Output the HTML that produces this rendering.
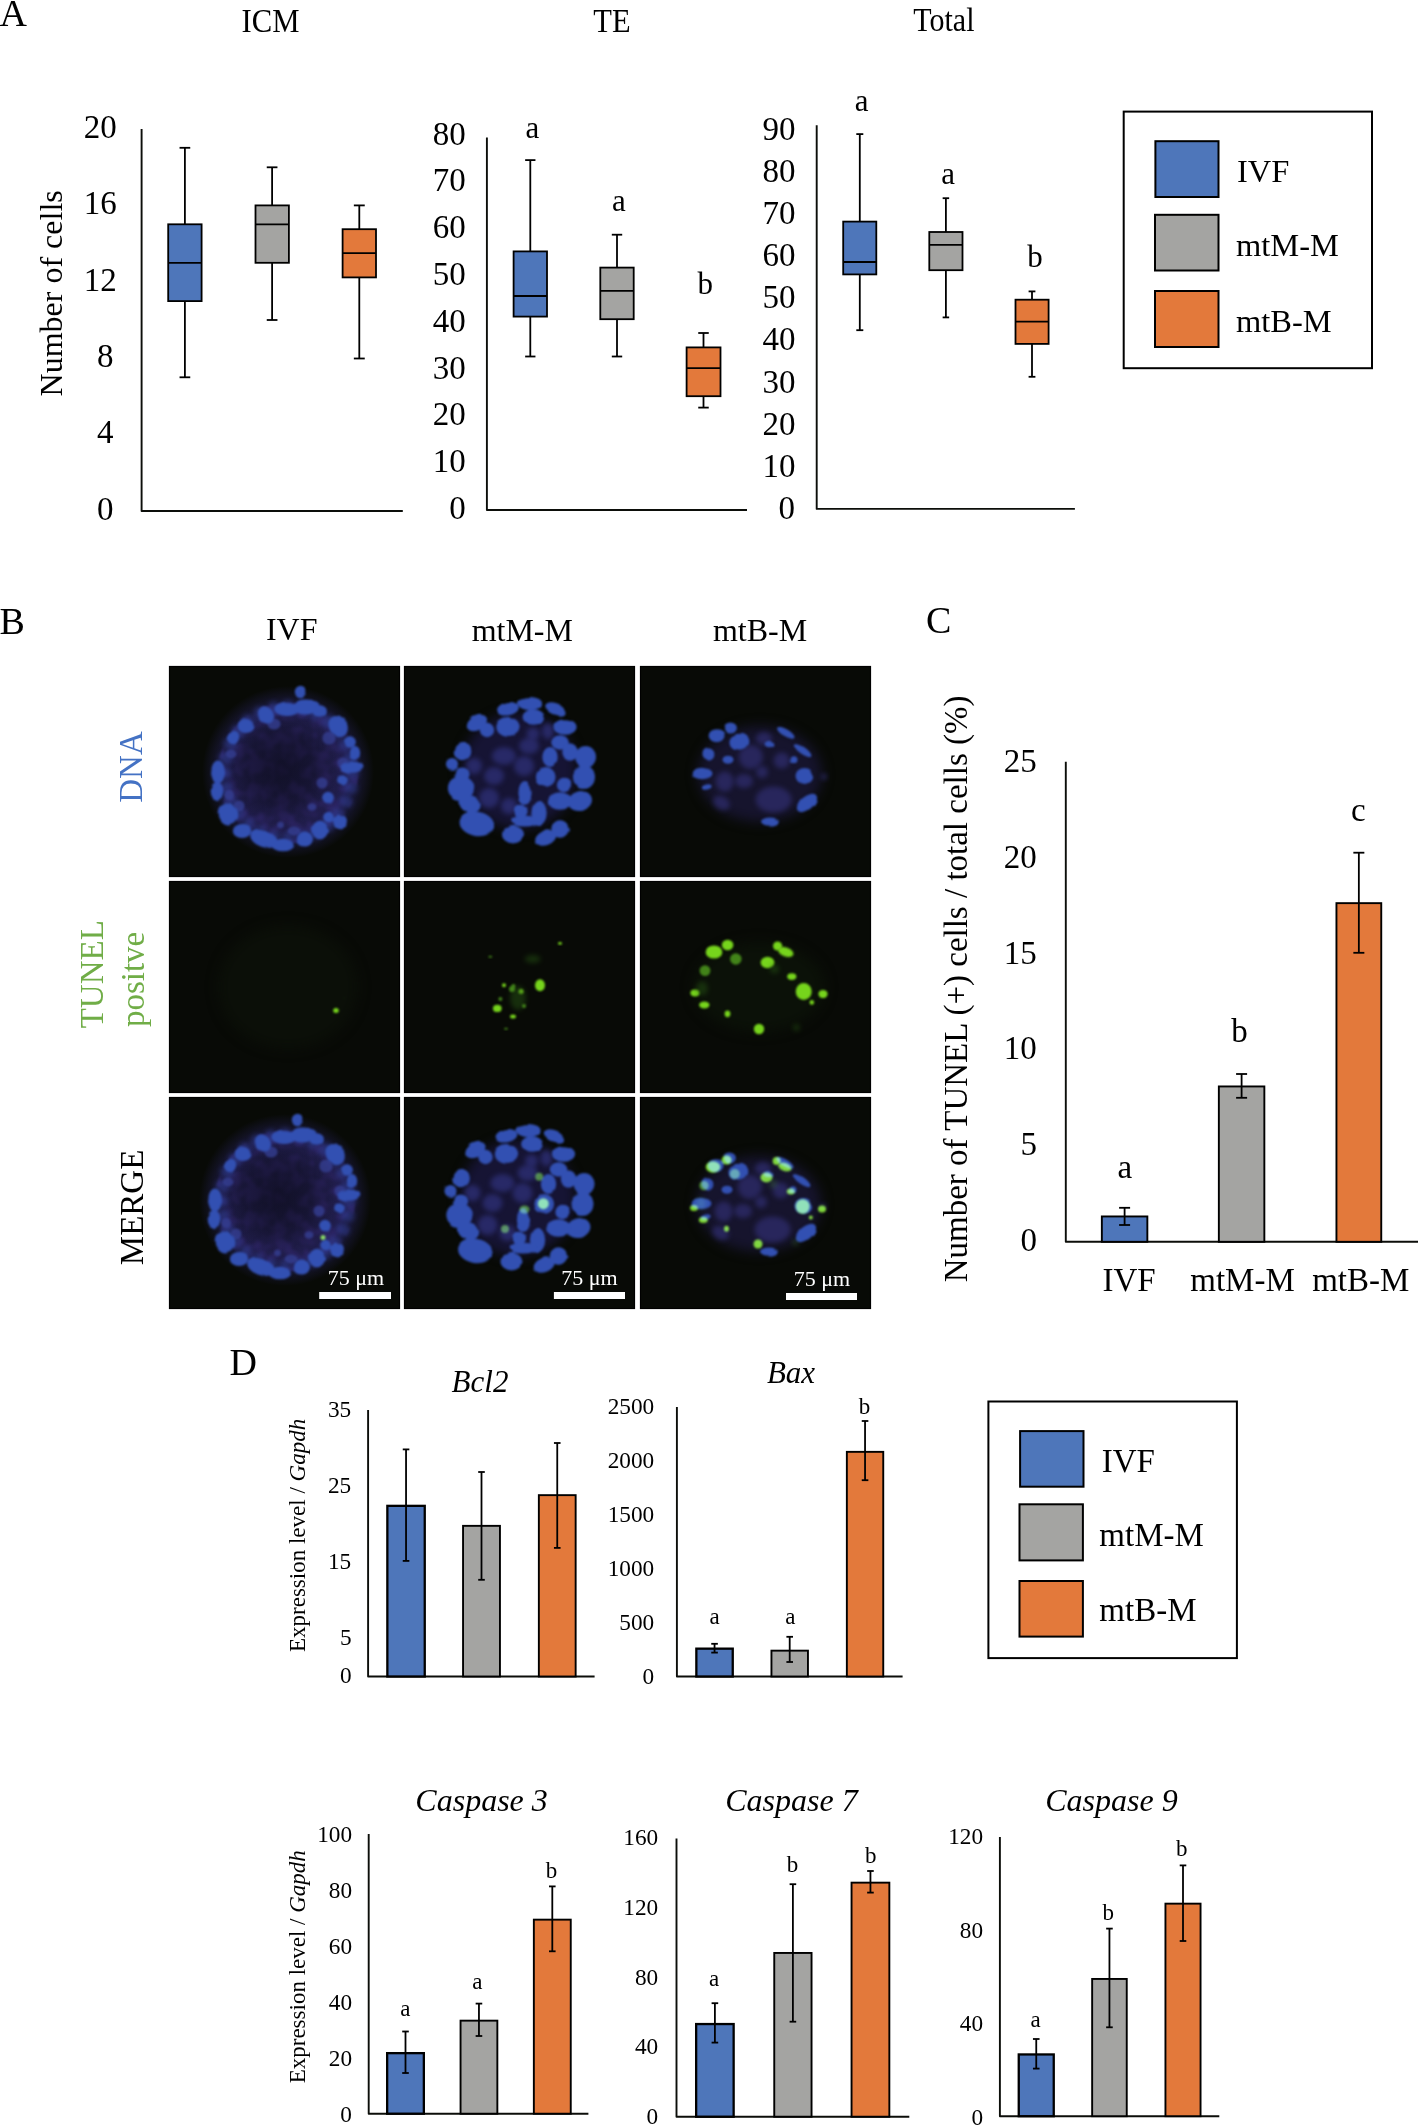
<!DOCTYPE html>
<html><head><meta charset="utf-8"><title>Figure</title>
<style>
html,body{margin:0;padding:0;background:#fff;overflow:hidden;width:1418px;height:2125px;}
svg{display:block;will-change:transform;}
text{font-family:"Liberation Serif", serif;}
</style></head>
<body>
<svg width="1418" height="2125" viewBox="0 0 1418 2125">
<text x="-0.5" y="25.8" text-anchor="start" fill="#000" style="font-size:38px;">A</text>
<text x="0" y="0" text-anchor="middle" fill="#000" style="font-size:33px;" transform="translate(270.5 31.8) scale(0.93 1)">ICM</text>
<text x="0" y="0" text-anchor="middle" fill="#000" style="font-size:33px;" transform="translate(611.9 31.8) scale(0.925 1)">TE</text>
<text x="0" y="0" text-anchor="middle" fill="#000" style="font-size:33px;" transform="translate(943.9 31.2) scale(0.91 1)">Total</text>
<path d="M141.6 128.9 V511 H402.8" fill="none" stroke="#0c0e0a" stroke-width="1.9" stroke-linejoin="round"/>
<text x="116.7" y="138.1" text-anchor="end" fill="#000" style="font-size:33px;">20</text>
<text x="116.7" y="214.43" text-anchor="end" fill="#000" style="font-size:33px;">16</text>
<text x="116.7" y="290.76" text-anchor="end" fill="#000" style="font-size:33px;">12</text>
<text x="113.6" y="367.09" text-anchor="end" fill="#000" style="font-size:33px;">8</text>
<text x="113.6" y="443.42" text-anchor="end" fill="#000" style="font-size:33px;">4</text>
<text x="113.6" y="519.75" text-anchor="end" fill="#000" style="font-size:33px;">0</text>
<text x="62.5" y="293.35" text-anchor="middle" fill="#000" style="font-size:32px;" transform="rotate(-90 62.5 293.35)">Number of cells</text>
<line x1="184.9" y1="147.8" x2="184.9" y2="224.3" stroke="#000" stroke-width="1.8"/>
<line x1="184.9" y1="301.1" x2="184.9" y2="377.3" stroke="#000" stroke-width="1.8"/>
<line x1="179.55" y1="147.8" x2="190.25" y2="147.8" stroke="#000" stroke-width="1.8"/>
<line x1="179.55" y1="377.3" x2="190.25" y2="377.3" stroke="#000" stroke-width="1.8"/>
<rect x="168.20000000000002" y="224.3" width="33.39999999999999" height="76.80000000000001" fill="#4E76BA" stroke="#000" stroke-width="1.8"/>
<line x1="168.20000000000002" y1="262.8" x2="201.6" y2="262.8" stroke="#000" stroke-width="1.8"/>
<line x1="272.1" y1="167.3" x2="272.1" y2="205.4" stroke="#000" stroke-width="1.8"/>
<line x1="272.1" y1="262.8" x2="272.1" y2="320" stroke="#000" stroke-width="1.8"/>
<line x1="266.75" y1="167.3" x2="277.45000000000005" y2="167.3" stroke="#000" stroke-width="1.8"/>
<line x1="266.75" y1="320" x2="277.45000000000005" y2="320" stroke="#000" stroke-width="1.8"/>
<rect x="255.5" y="205.4" width="33.40000000000002" height="57.400000000000006" fill="#A4A4A2" stroke="#000" stroke-width="1.8"/>
<line x1="255.5" y1="224.3" x2="288.90000000000003" y2="224.3" stroke="#000" stroke-width="1.8"/>
<line x1="359.3" y1="205.4" x2="359.3" y2="229.2" stroke="#000" stroke-width="1.8"/>
<line x1="359.3" y1="277.4" x2="359.3" y2="358.5" stroke="#000" stroke-width="1.8"/>
<line x1="353.85" y1="205.4" x2="364.75" y2="205.4" stroke="#000" stroke-width="1.8"/>
<line x1="353.85" y1="358.5" x2="364.75" y2="358.5" stroke="#000" stroke-width="1.8"/>
<rect x="342.59999999999997" y="229.2" width="33.39999999999999" height="48.19999999999999" fill="#E3793B" stroke="#000" stroke-width="1.8"/>
<line x1="342.59999999999997" y1="253.1" x2="376.0" y2="253.1" stroke="#000" stroke-width="1.8"/>
<path d="M486.9 137.4 V510 H747" fill="none" stroke="#0c0e0a" stroke-width="1.9" stroke-linejoin="round"/>
<text x="465.8" y="144.7" text-anchor="end" fill="#000" style="font-size:33px;">80</text>
<text x="465.8" y="191.46" text-anchor="end" fill="#000" style="font-size:33px;">70</text>
<text x="465.8" y="238.22" text-anchor="end" fill="#000" style="font-size:33px;">60</text>
<text x="465.8" y="284.98" text-anchor="end" fill="#000" style="font-size:33px;">50</text>
<text x="465.8" y="331.74" text-anchor="end" fill="#000" style="font-size:33px;">40</text>
<text x="465.8" y="378.5" text-anchor="end" fill="#000" style="font-size:33px;">30</text>
<text x="465.8" y="425.26" text-anchor="end" fill="#000" style="font-size:33px;">20</text>
<text x="465.8" y="472.02" text-anchor="end" fill="#000" style="font-size:33px;">10</text>
<text x="465.8" y="518.78" text-anchor="end" fill="#000" style="font-size:33px;">0</text>
<line x1="530.3" y1="160.1" x2="530.3" y2="251.4" stroke="#000" stroke-width="1.8"/>
<line x1="530.3" y1="316.6" x2="530.3" y2="356.5" stroke="#000" stroke-width="1.8"/>
<line x1="525.15" y1="160.1" x2="535.4499999999999" y2="160.1" stroke="#000" stroke-width="1.8"/>
<line x1="525.15" y1="356.5" x2="535.4499999999999" y2="356.5" stroke="#000" stroke-width="1.8"/>
<rect x="513.6" y="251.4" width="33.399999999999935" height="65.20000000000002" fill="#4E76BA" stroke="#000" stroke-width="1.8"/>
<line x1="513.6" y1="296" x2="547.0" y2="296" stroke="#000" stroke-width="1.8"/>
<line x1="617" y1="234.7" x2="617" y2="267.6" stroke="#000" stroke-width="1.8"/>
<line x1="617" y1="319.2" x2="617" y2="356.5" stroke="#000" stroke-width="1.8"/>
<line x1="611.8" y1="234.7" x2="622.2" y2="234.7" stroke="#000" stroke-width="1.8"/>
<line x1="611.8" y1="356.5" x2="622.2" y2="356.5" stroke="#000" stroke-width="1.8"/>
<rect x="600.3" y="267.6" width="33.40000000000005" height="51.599999999999966" fill="#A4A4A2" stroke="#000" stroke-width="1.8"/>
<line x1="600.3" y1="290.8" x2="633.7" y2="290.8" stroke="#000" stroke-width="1.8"/>
<line x1="703.5" y1="333" x2="703.5" y2="347.4" stroke="#000" stroke-width="1.8"/>
<line x1="703.5" y1="396.2" x2="703.5" y2="407.6" stroke="#000" stroke-width="1.8"/>
<line x1="698.25" y1="333" x2="708.75" y2="333" stroke="#000" stroke-width="1.8"/>
<line x1="698.25" y1="407.6" x2="708.75" y2="407.6" stroke="#000" stroke-width="1.8"/>
<rect x="686.6" y="347.4" width="33.899999999999935" height="48.80000000000001" fill="#E3793B" stroke="#000" stroke-width="1.8"/>
<line x1="686.6" y1="368.2" x2="720.5" y2="368.2" stroke="#000" stroke-width="1.8"/>
<text x="532.3" y="138.3" text-anchor="middle" fill="#000" style="font-size:31px;">a</text>
<text x="619" y="211.3" text-anchor="middle" fill="#000" style="font-size:31px;">a</text>
<text x="705.3" y="294.3" text-anchor="middle" fill="#000" style="font-size:31px;">b</text>
<path d="M816.7 125.2 V508.9 H1074.9" fill="none" stroke="#0c0e0a" stroke-width="1.9" stroke-linejoin="round"/>
<text x="795.6" y="139.8" text-anchor="end" fill="#000" style="font-size:33px;">90</text>
<text x="795.6" y="181.93" text-anchor="end" fill="#000" style="font-size:33px;">80</text>
<text x="795.6" y="224.06" text-anchor="end" fill="#000" style="font-size:33px;">70</text>
<text x="795.6" y="266.19" text-anchor="end" fill="#000" style="font-size:33px;">60</text>
<text x="795.6" y="308.32" text-anchor="end" fill="#000" style="font-size:33px;">50</text>
<text x="795.6" y="350.45" text-anchor="end" fill="#000" style="font-size:33px;">40</text>
<text x="795.6" y="392.58" text-anchor="end" fill="#000" style="font-size:33px;">30</text>
<text x="795.6" y="434.71" text-anchor="end" fill="#000" style="font-size:33px;">20</text>
<text x="795.6" y="476.84" text-anchor="end" fill="#000" style="font-size:33px;">10</text>
<text x="794.9" y="518.97" text-anchor="end" fill="#000" style="font-size:33px;">0</text>
<line x1="859.8" y1="134.1" x2="859.8" y2="221.6" stroke="#000" stroke-width="1.8"/>
<line x1="859.8" y1="274.4" x2="859.8" y2="330.2" stroke="#000" stroke-width="1.8"/>
<line x1="856.3" y1="134.1" x2="863.3" y2="134.1" stroke="#000" stroke-width="1.8"/>
<line x1="856.3" y1="330.2" x2="863.3" y2="330.2" stroke="#000" stroke-width="1.8"/>
<rect x="843.1999999999999" y="221.6" width="33.100000000000094" height="52.79999999999998" fill="#4E76BA" stroke="#000" stroke-width="1.8"/>
<line x1="843.1999999999999" y1="262" x2="876.3000000000001" y2="262" stroke="#000" stroke-width="1.8"/>
<line x1="945.9" y1="198.2" x2="945.9" y2="232" stroke="#000" stroke-width="1.8"/>
<line x1="945.9" y1="270.2" x2="945.9" y2="317.4" stroke="#000" stroke-width="1.8"/>
<line x1="942.65" y1="198.2" x2="949.15" y2="198.2" stroke="#000" stroke-width="1.8"/>
<line x1="942.65" y1="317.4" x2="949.15" y2="317.4" stroke="#000" stroke-width="1.8"/>
<rect x="929.3" y="232" width="33.2" height="38.19999999999999" fill="#A4A4A2" stroke="#000" stroke-width="1.8"/>
<line x1="929.3" y1="244.9" x2="962.5" y2="244.9" stroke="#000" stroke-width="1.8"/>
<line x1="1032" y1="291.4" x2="1032" y2="299.7" stroke="#000" stroke-width="1.8"/>
<line x1="1032" y1="343.9" x2="1032" y2="376.8" stroke="#000" stroke-width="1.8"/>
<line x1="1028.6" y1="291.4" x2="1035.4" y2="291.4" stroke="#000" stroke-width="1.8"/>
<line x1="1028.6" y1="376.8" x2="1035.4" y2="376.8" stroke="#000" stroke-width="1.8"/>
<rect x="1015.5" y="299.7" width="33.09999999999998" height="44.19999999999999" fill="#E3793B" stroke="#000" stroke-width="1.8"/>
<line x1="1015.5" y1="321.7" x2="1048.6" y2="321.7" stroke="#000" stroke-width="1.8"/>
<text x="861.6" y="110.7" text-anchor="middle" fill="#000" style="font-size:31px;">a</text>
<text x="948.2" y="183.6" text-anchor="middle" fill="#000" style="font-size:31px;">a</text>
<text x="1035.1" y="266.8" text-anchor="middle" fill="#000" style="font-size:31px;">b</text>
<rect x="1123.7" y="111.6" width="248.3" height="256.6" fill="#fff" stroke="#000" stroke-width="2"/>
<rect x="1155.4" y="141.2" width="63.1" height="55.8" fill="#4E76BA" stroke="#000" stroke-width="2"/>
<rect x="1155" y="214.8" width="63.5" height="55.7" fill="#A4A4A2" stroke="#000" stroke-width="2"/>
<rect x="1155" y="291" width="63.5" height="56" fill="#E3793B" stroke="#000" stroke-width="2"/>
<text x="1237" y="182" text-anchor="start" fill="#000" style="font-size:32.5px;">IVF</text>
<text x="1236" y="256" text-anchor="start" fill="#000" style="font-size:32.5px;">mtM-M</text>
<text x="1236" y="331.5" text-anchor="start" fill="#000" style="font-size:32.5px;">mtB-M</text>
<text x="-0.5" y="634.4" text-anchor="start" fill="#000" style="font-size:38px;">B</text>
<text x="291.7" y="640.2" text-anchor="middle" fill="#000" style="font-size:32px;">IVF</text>
<text x="522.3" y="640.8" text-anchor="middle" fill="#000" style="font-size:32px;">mtM-M</text>
<text x="760" y="640.8" text-anchor="middle" fill="#000" style="font-size:32px;">mtB-M</text>
<text x="141.75" y="767" text-anchor="middle" fill="#4472C4" style="font-size:33px;" transform="rotate(-90 141.75 767)">DNA</text>
<text x="103.1" y="974.25" text-anchor="middle" fill="#70AD47" style="font-size:33px;" transform="rotate(-90 103.1 974.25)">TUNEL</text>
<text x="143.9" y="979.45" text-anchor="middle" fill="#70AD47" style="font-size:33px;" transform="rotate(-90 143.9 979.45)">positve</text>
<text x="143.1" y="1207.4" text-anchor="middle" fill="#000" style="font-size:33px;" transform="rotate(-90 143.1 1207.4)">MERGE</text>
<defs>
<filter id="b1" x="-50%" y="-50%" width="200%" height="200%" color-interpolation-filters="sRGB"><feGaussianBlur stdDeviation="1.1"/></filter>
<filter id="b2" x="-50%" y="-50%" width="200%" height="200%" color-interpolation-filters="sRGB"><feGaussianBlur stdDeviation="2.5"/></filter>
<filter id="b4" x="-50%" y="-50%" width="200%" height="200%" color-interpolation-filters="sRGB"><feGaussianBlur stdDeviation="6"/></filter>
<filter id="wob" x="-10%" y="-10%" width="120%" height="120%" color-interpolation-filters="sRGB">
 <feTurbulence type="fractalNoise" baseFrequency="0.07" numOctaves="1" seed="3" result="t"/>
 <feDisplacementMap in="SourceGraphic" in2="t" scale="3.5" xChannelSelector="R" yChannelSelector="G" result="d"/>
 <feGaussianBlur in="d" stdDeviation="1.0"/>
</filter>
<filter id="mottle" x="-10%" y="-10%" width="120%" height="120%" color-interpolation-filters="sRGB">
 <feTurbulence type="fractalNoise" baseFrequency="0.075" numOctaves="2" seed="7" result="n"/>
 <feColorMatrix in="n" type="matrix" values="0 0 0 0 0.17  0 0 0 0 0.14  0 0 0 0 0.38  0 0 0 3.6 -1.45" result="c"/>
 <feComposite in="c" in2="SourceGraphic" operator="in" result="m"/>
 <feGaussianBlur in="m" stdDeviation="0.8"/>
</filter>
<radialGradient id="dark1"><stop offset="0" stop-color="#05060a" stop-opacity="0.55"/><stop offset="0.6" stop-color="#05060a" stop-opacity="0.35"/><stop offset="1" stop-color="#05060a" stop-opacity="0"/></radialGradient>
<radialGradient id="halo1"><stop offset="0.7" stop-color="rgb(48,42,120)" stop-opacity="0.6"/><stop offset="1" stop-color="rgb(48,42,120)" stop-opacity="0"/></radialGradient>
</defs>
<clipPath id="cp00"><rect x="0" y="0" width="231" height="211"/></clipPath>
<g transform="translate(169 666)"><g clip-path="url(#cp00)"><rect x="0" y="0" width="231" height="211" fill="#080a06"/>
<g transform="translate(0 0)"><circle cx="119" cy="106" r="86" fill="url(#halo1)"/><circle cx="119" cy="107" r="70" fill="rgb(40,32,92)" filter="url(#mottle)"/><circle cx="112" cy="102" r="58" fill="url(#dark1)"/><ellipse cx="183.0" cy="107.0" rx="7" ry="6" fill="rgb(48,62,150)" opacity="0.55" filter="url(#b2)"/><ellipse cx="181.4" cy="121.7" rx="7" ry="6" fill="rgb(48,62,150)" transform="rotate(13.0 181.4 121.7)" opacity="0.55" filter="url(#b2)"/><ellipse cx="176.7" cy="135.6" rx="7" ry="6" fill="rgb(48,62,150)" transform="rotate(26.0 176.7 135.6)" opacity="0.55" filter="url(#b2)"/><ellipse cx="169.0" cy="148.2" rx="7" ry="6" fill="rgb(48,62,150)" transform="rotate(39.0 169.0 148.2)" opacity="0.55" filter="url(#b2)"/><ellipse cx="158.9" cy="158.6" rx="7" ry="6" fill="rgb(48,62,150)" transform="rotate(51.0 158.9 158.6)" opacity="0.55" filter="url(#b2)"/><ellipse cx="146.8" cy="166.5" rx="7" ry="6" fill="rgb(48,62,150)" transform="rotate(64.0 146.8 166.5)" opacity="0.55" filter="url(#b2)"/><ellipse cx="133.2" cy="171.3" rx="7" ry="6" fill="rgb(48,62,150)" transform="rotate(77.0 133.2 171.3)" opacity="0.55" filter="url(#b2)"/><ellipse cx="119.0" cy="173.0" rx="7" ry="6" fill="rgb(48,62,150)" transform="rotate(90.0 119.0 173.0)" opacity="0.55" filter="url(#b2)"/><ellipse cx="104.8" cy="171.3" rx="7" ry="6" fill="rgb(48,62,150)" transform="rotate(103.0 104.8 171.3)" opacity="0.55" filter="url(#b2)"/><ellipse cx="91.2" cy="166.5" rx="7" ry="6" fill="rgb(48,62,150)" transform="rotate(116.0 91.2 166.5)" opacity="0.55" filter="url(#b2)"/><ellipse cx="79.1" cy="158.6" rx="7" ry="6" fill="rgb(48,62,150)" transform="rotate(129.0 79.1 158.6)" opacity="0.55" filter="url(#b2)"/><ellipse cx="69.0" cy="148.2" rx="7" ry="6" fill="rgb(48,62,150)" transform="rotate(141.0 69.0 148.2)" opacity="0.55" filter="url(#b2)"/><ellipse cx="61.3" cy="135.6" rx="7" ry="6" fill="rgb(48,62,150)" transform="rotate(154.0 61.3 135.6)" opacity="0.55" filter="url(#b2)"/><ellipse cx="56.6" cy="121.7" rx="7" ry="6" fill="rgb(48,62,150)" transform="rotate(167.0 56.6 121.7)" opacity="0.55" filter="url(#b2)"/><ellipse cx="55.0" cy="107.0" rx="7" ry="6" fill="rgb(48,62,150)" transform="rotate(180.0 55.0 107.0)" opacity="0.55" filter="url(#b2)"/><ellipse cx="56.6" cy="92.3" rx="7" ry="6" fill="rgb(48,62,150)" transform="rotate(193.0 56.6 92.3)" opacity="0.55" filter="url(#b2)"/><ellipse cx="61.3" cy="78.4" rx="7" ry="6" fill="rgb(48,62,150)" transform="rotate(206.0 61.3 78.4)" opacity="0.55" filter="url(#b2)"/><ellipse cx="69.0" cy="65.8" rx="7" ry="6" fill="rgb(48,62,150)" transform="rotate(219.0 69.0 65.8)" opacity="0.55" filter="url(#b2)"/><ellipse cx="79.1" cy="55.4" rx="7" ry="6" fill="rgb(48,62,150)" transform="rotate(231.0 79.1 55.4)" opacity="0.55" filter="url(#b2)"/><ellipse cx="91.2" cy="47.5" rx="7" ry="6" fill="rgb(48,62,150)" transform="rotate(244.0 91.2 47.5)" opacity="0.55" filter="url(#b2)"/><ellipse cx="104.8" cy="42.7" rx="7" ry="6" fill="rgb(48,62,150)" transform="rotate(257.0 104.8 42.7)" opacity="0.55" filter="url(#b2)"/><ellipse cx="119.0" cy="41.0" rx="7" ry="6" fill="rgb(48,62,150)" transform="rotate(270.0 119.0 41.0)" opacity="0.55" filter="url(#b2)"/><ellipse cx="133.2" cy="42.7" rx="7" ry="6" fill="rgb(48,62,150)" transform="rotate(283.0 133.2 42.7)" opacity="0.55" filter="url(#b2)"/><ellipse cx="146.8" cy="47.5" rx="7" ry="6" fill="rgb(48,62,150)" transform="rotate(296.0 146.8 47.5)" opacity="0.55" filter="url(#b2)"/><ellipse cx="158.9" cy="55.4" rx="7" ry="6" fill="rgb(48,62,150)" transform="rotate(309.0 158.9 55.4)" opacity="0.55" filter="url(#b2)"/><ellipse cx="169.0" cy="65.8" rx="7" ry="6" fill="rgb(48,62,150)" transform="rotate(321.0 169.0 65.8)" opacity="0.55" filter="url(#b2)"/><ellipse cx="176.7" cy="78.4" rx="7" ry="6" fill="rgb(48,62,150)" transform="rotate(334.0 176.7 78.4)" opacity="0.55" filter="url(#b2)"/><ellipse cx="181.4" cy="92.3" rx="7" ry="6" fill="rgb(48,62,150)" transform="rotate(347.0 181.4 92.3)" opacity="0.55" filter="url(#b2)"/><ellipse cx="62" cy="88" rx="5.5" ry="4.4" fill="rgb(52,62,145)" opacity="0.8" filter="url(#b1)"/><ellipse cx="60" cy="129" rx="4.95" ry="4.95" fill="rgb(52,62,145)" opacity="0.8" filter="url(#b1)"/><ellipse cx="153" cy="117" rx="5.5" ry="5.5" fill="rgb(52,62,145)" opacity="0.8" filter="url(#b1)"/><ellipse cx="111.6" cy="159" rx="3.3000000000000003" ry="3.3000000000000003" fill="rgb(52,62,145)" opacity="0.8" filter="url(#b1)"/><ellipse cx="143" cy="141" rx="4.4" ry="3.8500000000000005" fill="rgb(52,62,145)" opacity="0.8" filter="url(#b1)"/><ellipse cx="174" cy="97" rx="5.5" ry="5.5" fill="rgb(52,62,145)" opacity="0.8" filter="url(#b1)"/><ellipse cx="105" cy="58" rx="6.6000000000000005" ry="5.5" fill="rgb(52,62,145)" opacity="0.8" filter="url(#b1)"/><ellipse cx="160" cy="72" rx="6.6000000000000005" ry="6.6000000000000005" fill="rgb(52,62,145)" opacity="0.8" filter="url(#b1)"/><ellipse cx="70" cy="140" rx="5.5" ry="5.5" fill="rgb(52,62,145)" opacity="0.8" filter="url(#b1)"/><ellipse cx="125" cy="165" rx="6.6000000000000005" ry="4.4" fill="rgb(52,62,145)" opacity="0.8" filter="url(#b1)"/><g filter="url(#wob)"><ellipse cx="131.6" cy="26" rx="5.8" ry="6.3" fill="rgb(50,80,178)"/><ellipse cx="118" cy="43" rx="12.6" ry="6.9" fill="rgb(50,80,178)"/><ellipse cx="137" cy="41" rx="13.8" ry="7.5" fill="rgb(50,80,178)"/><ellipse cx="151" cy="45" rx="6.9" ry="5.8" fill="rgb(50,80,178)"/><ellipse cx="97" cy="49" rx="7.5" ry="9.2" fill="rgb(50,80,178)" transform="rotate(-35 97 49)"/><ellipse cx="76.5" cy="60" rx="8.0" ry="6.9" fill="rgb(50,80,178)"/><ellipse cx="64" cy="72" rx="5.8" ry="7.5" fill="rgb(50,80,178)" transform="rotate(30 64 72)"/><ellipse cx="169" cy="60" rx="9.2" ry="11.5" fill="rgb(50,80,178)" transform="rotate(-30 169 60)"/><ellipse cx="181" cy="76" rx="5.8" ry="5.8" fill="rgb(50,80,178)"/><ellipse cx="186" cy="87" rx="5.2" ry="6.9" fill="rgb(50,80,178)"/><ellipse cx="183" cy="101" rx="11.5" ry="5.8" fill="rgb(50,80,178)"/><ellipse cx="174" cy="114" rx="5.8" ry="5.8" fill="rgb(50,80,178)"/><ellipse cx="49" cy="106" rx="6.9" ry="11.5" fill="rgb(50,80,178)"/><ellipse cx="48" cy="125" rx="6.3" ry="9.2" fill="rgb(50,80,178)"/><ellipse cx="59" cy="148" rx="10.3" ry="11.5" fill="rgb(50,80,178)" transform="rotate(-20 59 148)"/><ellipse cx="73" cy="165" rx="9.2" ry="6.9" fill="rgb(50,80,178)"/><ellipse cx="94.5" cy="173" rx="13.8" ry="8.0" fill="rgb(50,80,178)" transform="rotate(20 94.5 173)"/><ellipse cx="114" cy="179" rx="11.5" ry="6.3" fill="rgb(50,80,178)"/><ellipse cx="136" cy="173" rx="8.0" ry="7.5" fill="rgb(50,80,178)"/><ellipse cx="151" cy="164" rx="8.0" ry="9.2" fill="rgb(50,80,178)"/><ellipse cx="160" cy="151" rx="5.8" ry="5.2" fill="rgb(50,80,178)"/><ellipse cx="171" cy="156" rx="6.9" ry="6.3" fill="rgb(50,80,178)"/><ellipse cx="159" cy="132" rx="5.8" ry="6.3" fill="rgb(50,80,178)"/></g></g>
</g><rect x="0.5" y="0.5" width="230" height="210" fill="none" stroke="#000" stroke-width="1.2"/></g>
<clipPath id="cp01"><rect x="0" y="0" width="231" height="211"/></clipPath>
<g transform="translate(404 666)"><g clip-path="url(#cp01)"><rect x="0" y="0" width="231" height="211" fill="#080a06"/>
<g transform="translate(0 0)"><ellipse cx="115" cy="105" rx="58" ry="58" fill="rgb(22,20,52)" filter="url(#b4)"/><ellipse cx="144" cy="65" rx="6" ry="8" fill="rgb(46,48,120)" opacity="0.75" filter="url(#b2)"/><ellipse cx="129" cy="68" rx="6.5" ry="6.5" fill="rgb(46,48,120)" opacity="0.75" filter="url(#b2)"/><ellipse cx="85" cy="132" rx="10" ry="10" fill="rgb(46,48,120)" opacity="0.75" filter="url(#b2)"/><ellipse cx="100" cy="90" rx="12" ry="9" fill="rgb(46,48,120)" opacity="0.75" filter="url(#b2)"/><ellipse cx="120" cy="100" rx="10" ry="10" fill="rgb(46,48,120)" opacity="0.75" filter="url(#b2)"/><ellipse cx="90" cy="110" rx="10" ry="9" fill="rgb(46,48,120)" opacity="0.75" filter="url(#b2)"/><ellipse cx="125" cy="80" rx="10" ry="8" fill="rgb(46,48,120)" opacity="0.75" filter="url(#b2)"/><ellipse cx="70" cy="100" rx="8" ry="8" fill="rgb(46,48,120)" opacity="0.75" filter="url(#b2)"/><ellipse cx="105" cy="140" rx="8" ry="8" fill="rgb(46,48,120)" opacity="0.75" filter="url(#b2)"/><g filter="url(#wob)"><ellipse cx="126" cy="37.5" rx="12.1" ry="6.6" fill="rgb(50,80,178)"/><ellipse cx="104" cy="42.7" rx="11.0" ry="6.6" fill="rgb(50,80,178)" transform="rotate(-10 104 42.7)"/><ellipse cx="151.5" cy="43" rx="11.0" ry="5.5" fill="rgb(50,80,178)" transform="rotate(25 151.5 43)"/><ellipse cx="129.5" cy="51" rx="11.0" ry="7.7" fill="rgb(50,80,178)"/><ellipse cx="73" cy="57" rx="11.0" ry="7.2" fill="rgb(50,80,178)" transform="rotate(-30 73 57)"/><ellipse cx="83" cy="64" rx="7.2" ry="7.2" fill="rgb(50,80,178)"/><ellipse cx="104" cy="61" rx="11.6" ry="9.9" fill="rgb(50,80,178)"/><ellipse cx="161" cy="61" rx="11.6" ry="7.7" fill="rgb(50,80,178)"/><ellipse cx="156" cy="76.5" rx="8.8" ry="7.2" fill="rgb(50,80,178)"/><ellipse cx="166" cy="86" rx="7.7" ry="8.8" fill="rgb(50,80,178)"/><ellipse cx="181.6" cy="91" rx="10.5" ry="11.0" fill="rgb(50,80,178)"/><ellipse cx="58.6" cy="85.5" rx="8.8" ry="8.8" fill="rgb(50,80,178)"/><ellipse cx="48" cy="98" rx="6.1" ry="6.1" fill="rgb(50,80,178)"/><ellipse cx="146" cy="91" rx="7.7" ry="9.9" fill="rgb(50,80,178)"/><ellipse cx="141.7" cy="111" rx="9.9" ry="9.9" fill="rgb(50,80,178)"/><ellipse cx="180" cy="111" rx="11.0" ry="12.1" fill="rgb(50,80,178)"/><ellipse cx="160" cy="119" rx="7.2" ry="7.2" fill="rgb(50,80,178)"/><ellipse cx="121" cy="127" rx="6.6" ry="11.0" fill="rgb(50,80,178)"/><ellipse cx="176" cy="135" rx="12.1" ry="9.9" fill="rgb(50,80,178)" transform="rotate(-15 176 135)"/><ellipse cx="156" cy="135" rx="12.1" ry="8.8" fill="rgb(50,80,178)"/><ellipse cx="117" cy="145" rx="7.7" ry="7.2" fill="rgb(50,80,178)"/><ellipse cx="135" cy="147" rx="7.7" ry="12.1" fill="rgb(50,80,178)"/><ellipse cx="120.5" cy="155" rx="14.3" ry="5.5" fill="rgb(50,80,178)"/><ellipse cx="73" cy="158" rx="17.6" ry="12.1" fill="rgb(50,80,178)" transform="rotate(10 73 158)"/><ellipse cx="109" cy="168.6" rx="11.0" ry="8.8" fill="rgb(50,80,178)"/><ellipse cx="156" cy="163" rx="8.8" ry="8.8" fill="rgb(50,80,178)" transform="rotate(-30 156 163)"/><ellipse cx="141.7" cy="172" rx="11.0" ry="7.2" fill="rgb(50,80,178)" transform="rotate(-20 141.7 172)"/><ellipse cx="57" cy="122" rx="13.2" ry="12.1" fill="rgb(50,80,178)"/><ellipse cx="66" cy="138" rx="11.0" ry="8.8" fill="rgb(50,80,178)" transform="rotate(20 66 138)"/><ellipse cx="58" cy="108" rx="7.7" ry="6.6" fill="rgb(50,80,178)"/></g></g>
</g><rect x="0.5" y="0.5" width="230" height="210" fill="none" stroke="#000" stroke-width="1.2"/></g>
<clipPath id="cp02"><rect x="0" y="0" width="231" height="211"/></clipPath>
<g transform="translate(640 666)"><g clip-path="url(#cp02)"><rect x="0" y="0" width="231" height="211" fill="#080a06"/>
<g transform="translate(0 0)"><ellipse cx="120" cy="108" rx="62" ry="48" fill="rgb(22,20,45)" filter="url(#b4)"/><ellipse cx="81.4" cy="137" rx="9" ry="6.5" fill="rgb(46,44,108)" transform="rotate(30 81.4 137)" opacity="0.75" filter="url(#b2)"/><ellipse cx="133.6" cy="133.6" rx="18" ry="13" fill="rgb(46,44,108)" opacity="0.75" filter="url(#b2)"/><ellipse cx="124" cy="72.5" rx="8" ry="6.5" fill="rgb(46,44,108)" opacity="0.75" filter="url(#b2)"/><ellipse cx="110.8" cy="91" rx="12" ry="12" fill="rgb(46,44,108)" opacity="0.75" filter="url(#b2)"/><ellipse cx="104" cy="115" rx="9" ry="7" fill="rgb(46,44,108)" opacity="0.75" filter="url(#b2)"/><ellipse cx="84.7" cy="115.6" rx="9" ry="10" fill="rgb(46,44,108)" opacity="0.75" filter="url(#b2)"/><ellipse cx="122" cy="106" rx="6" ry="6" fill="rgb(46,44,108)" opacity="0.75" filter="url(#b2)"/><ellipse cx="141.7" cy="94.5" rx="8" ry="8" fill="rgb(46,44,108)" opacity="0.75" filter="url(#b2)"/><ellipse cx="184" cy="110.8" rx="3" ry="3" fill="rgb(46,44,108)" opacity="0.75" filter="url(#b2)"/><g filter="url(#wob)"><ellipse cx="90.4" cy="62" rx="6.5" ry="5.5" fill="rgb(50,80,178)"/><ellipse cx="76.6" cy="69.7" rx="8" ry="6.5" fill="rgb(50,80,178)"/><ellipse cx="99.4" cy="75.7" rx="9" ry="8" fill="rgb(50,80,178)"/><ellipse cx="68.4" cy="88" rx="6" ry="5.7" fill="rgb(50,80,178)"/><ellipse cx="88" cy="93.7" rx="5.5" ry="4" fill="rgb(50,80,178)"/><ellipse cx="62" cy="107.5" rx="10.5" ry="5.7" fill="rgb(50,80,178)"/><ellipse cx="66.8" cy="122" rx="5" ry="2.5" fill="rgb(50,80,178)" transform="rotate(-15 66.8 122)"/><ellipse cx="145.8" cy="66.8" rx="10" ry="3.5" fill="rgb(50,80,178)" transform="rotate(30 145.8 66.8)"/><ellipse cx="129.5" cy="78" rx="5" ry="3.3" fill="rgb(50,80,178)"/><ellipse cx="163" cy="84.7" rx="10" ry="3.5" fill="rgb(50,80,178)" transform="rotate(35 163 84.7)"/><ellipse cx="154" cy="93.7" rx="3.5" ry="3.5" fill="rgb(50,80,178)"/><ellipse cx="164.5" cy="110" rx="9" ry="8" fill="rgb(50,80,178)"/><ellipse cx="167" cy="137" rx="12" ry="6.5" fill="rgb(50,80,178)" transform="rotate(-40 167 137)"/><ellipse cx="130" cy="155.6" rx="9" ry="4" fill="rgb(50,80,178)"/></g></g>
</g><rect x="0.5" y="0.5" width="230" height="210" fill="none" stroke="#000" stroke-width="1.2"/></g>
<clipPath id="cp10"><rect x="0" y="0" width="231" height="212"/></clipPath>
<g transform="translate(169 881)"><g clip-path="url(#cp10)"><rect x="0" y="0" width="231" height="212" fill="#080a06"/>
<ellipse cx="119" cy="106" rx="70" ry="62" fill="rgb(11,15,8)" filter="url(#b4)"/><ellipse cx="167" cy="129.5" rx="2.8" ry="2.5" fill="rgb(118,212,28)" filter="url(#b1)"/><ellipse cx="175.4" cy="117" rx="1" ry="1" fill="rgb(40,90,20)" opacity="0.45" filter="url(#b2)"/>
</g><rect x="0.5" y="0.5" width="230" height="211" fill="none" stroke="#000" stroke-width="1.2"/></g>
<clipPath id="cp11"><rect x="0" y="0" width="231" height="212"/></clipPath>
<g transform="translate(404 881)"><g clip-path="url(#cp11)"><rect x="0" y="0" width="231" height="212" fill="#080a06"/>
<ellipse cx="136" cy="104.3" rx="5" ry="6" fill="rgb(118,212,28)" filter="url(#b1)"/><ellipse cx="93.3" cy="127.4" rx="4.4" ry="3.7" fill="rgb(118,212,28)" filter="url(#b1)"/><ellipse cx="109" cy="135.6" rx="3" ry="2" fill="rgb(118,212,28)" filter="url(#b1)"/><ellipse cx="100" cy="104.3" rx="2" ry="2" fill="rgb(118,212,28)" filter="url(#b1)"/><ellipse cx="117" cy="110.5" rx="2.5" ry="2.5" fill="rgb(118,212,28)" filter="url(#b1)"/><ellipse cx="109.5" cy="105" rx="2" ry="2" fill="rgb(80,160,30)" opacity="0.8" filter="url(#b1)"/><ellipse cx="96.4" cy="118" rx="2" ry="2" fill="rgb(80,160,30)" opacity="0.8" filter="url(#b1)"/><ellipse cx="156" cy="62.4" rx="2" ry="1.3" fill="rgb(118,212,28)" filter="url(#b1)"/><ellipse cx="86.3" cy="75.8" rx="2" ry="1" fill="rgb(80,160,30)" opacity="0.8" filter="url(#b1)"/><ellipse cx="102" cy="147.8" rx="2" ry="1" fill="rgb(80,160,30)" opacity="0.8" filter="url(#b1)"/><ellipse cx="128.7" cy="78" rx="8" ry="4" fill="rgb(40,90,20)" opacity="0.45" filter="url(#b2)"/><ellipse cx="114" cy="117" rx="8" ry="12" fill="rgb(40,90,20)" opacity="0.45" filter="url(#b2)"/><ellipse cx="108" cy="108" rx="3" ry="3" fill="rgb(80,160,30)" opacity="0.8" filter="url(#b1)"/><ellipse cx="120" cy="125" rx="2" ry="2" fill="rgb(80,160,30)" opacity="0.8" filter="url(#b1)"/>
</g><rect x="0.5" y="0.5" width="230" height="211" fill="none" stroke="#000" stroke-width="1.2"/></g>
<clipPath id="cp12"><rect x="0" y="0" width="231" height="212"/></clipPath>
<g transform="translate(640 881)"><g clip-path="url(#cp12)"><rect x="0" y="0" width="231" height="212" fill="#080a06"/>
<ellipse cx="119" cy="106" rx="66" ry="45" fill="rgb(11,17,8)" filter="url(#b4)"/><ellipse cx="74" cy="71" rx="8.4" ry="6.6" fill="rgb(118,212,28)" filter="url(#b1)"/><ellipse cx="87.6" cy="64" rx="5.8" ry="5.2" fill="rgb(118,212,28)" filter="url(#b1)"/><ellipse cx="95.8" cy="78" rx="5.8" ry="5.8" fill="rgb(80,160,30)" opacity="0.8" filter="url(#b1)"/><ellipse cx="65" cy="89.6" rx="5.4" ry="5.4" fill="rgb(80,160,30)" opacity="0.8" filter="url(#b1)"/><ellipse cx="55" cy="112" rx="4.6" ry="3.4" fill="rgb(118,212,28)" filter="url(#b1)"/><ellipse cx="64.3" cy="124" rx="5.2" ry="3.4" fill="rgb(118,212,28)" filter="url(#b1)"/><ellipse cx="62" cy="107.5" rx="5.8" ry="6.9" fill="rgb(40,90,20)" opacity="0.45" filter="url(#b2)"/><ellipse cx="87.5" cy="132.8" rx="2.9" ry="3.4" fill="rgb(118,212,28)" filter="url(#b1)"/><ellipse cx="119" cy="148" rx="5.2" ry="5.2" fill="rgb(118,212,28)" filter="url(#b1)"/><ellipse cx="127.5" cy="81.5" rx="6.9" ry="5.8" fill="rgb(118,212,28)" filter="url(#b1)"/><ellipse cx="137.6" cy="65" rx="4.6" ry="4.6" fill="rgb(118,212,28)" filter="url(#b1)"/><ellipse cx="145.8" cy="71" rx="8.0" ry="4.6" fill="rgb(118,212,28)" transform="rotate(20 145.8 71)" filter="url(#b1)"/><ellipse cx="151.8" cy="95.6" rx="4.6" ry="3.4" fill="rgb(118,212,28)" filter="url(#b1)"/><ellipse cx="163.7" cy="110.5" rx="8.0" ry="8.4" fill="rgb(118,212,28)" filter="url(#b1)"/><ellipse cx="183" cy="113" rx="4.6" ry="4.1" fill="rgb(118,212,28)" filter="url(#b1)"/><ellipse cx="171.8" cy="121.4" rx="2.3" ry="2.3" fill="rgb(118,212,28)" filter="url(#b1)"/><ellipse cx="156.4" cy="146.6" rx="3.4" ry="3.4" fill="rgb(40,90,20)" opacity="0.45" filter="url(#b2)"/><ellipse cx="134.4" cy="88" rx="4.6" ry="4.6" fill="rgb(40,90,20)" opacity="0.45" filter="url(#b2)"/>
</g><rect x="0.5" y="0.5" width="230" height="211" fill="none" stroke="#000" stroke-width="1.2"/></g>
<clipPath id="cp20"><rect x="0" y="0" width="231" height="212"/></clipPath>
<g transform="translate(169 1097)"><g clip-path="url(#cp20)"><rect x="0" y="0" width="231" height="212" fill="#080a06"/>
<g transform="translate(-3 -3)"><circle cx="119" cy="106" r="86" fill="url(#halo1)"/><circle cx="119" cy="107" r="70" fill="rgb(40,32,92)" filter="url(#mottle)"/><circle cx="112" cy="102" r="58" fill="url(#dark1)"/><ellipse cx="183.0" cy="107.0" rx="7" ry="6" fill="rgb(48,62,150)" opacity="0.55" filter="url(#b2)"/><ellipse cx="181.4" cy="121.7" rx="7" ry="6" fill="rgb(48,62,150)" transform="rotate(13.0 181.4 121.7)" opacity="0.55" filter="url(#b2)"/><ellipse cx="176.7" cy="135.6" rx="7" ry="6" fill="rgb(48,62,150)" transform="rotate(26.0 176.7 135.6)" opacity="0.55" filter="url(#b2)"/><ellipse cx="169.0" cy="148.2" rx="7" ry="6" fill="rgb(48,62,150)" transform="rotate(39.0 169.0 148.2)" opacity="0.55" filter="url(#b2)"/><ellipse cx="158.9" cy="158.6" rx="7" ry="6" fill="rgb(48,62,150)" transform="rotate(51.0 158.9 158.6)" opacity="0.55" filter="url(#b2)"/><ellipse cx="146.8" cy="166.5" rx="7" ry="6" fill="rgb(48,62,150)" transform="rotate(64.0 146.8 166.5)" opacity="0.55" filter="url(#b2)"/><ellipse cx="133.2" cy="171.3" rx="7" ry="6" fill="rgb(48,62,150)" transform="rotate(77.0 133.2 171.3)" opacity="0.55" filter="url(#b2)"/><ellipse cx="119.0" cy="173.0" rx="7" ry="6" fill="rgb(48,62,150)" transform="rotate(90.0 119.0 173.0)" opacity="0.55" filter="url(#b2)"/><ellipse cx="104.8" cy="171.3" rx="7" ry="6" fill="rgb(48,62,150)" transform="rotate(103.0 104.8 171.3)" opacity="0.55" filter="url(#b2)"/><ellipse cx="91.2" cy="166.5" rx="7" ry="6" fill="rgb(48,62,150)" transform="rotate(116.0 91.2 166.5)" opacity="0.55" filter="url(#b2)"/><ellipse cx="79.1" cy="158.6" rx="7" ry="6" fill="rgb(48,62,150)" transform="rotate(129.0 79.1 158.6)" opacity="0.55" filter="url(#b2)"/><ellipse cx="69.0" cy="148.2" rx="7" ry="6" fill="rgb(48,62,150)" transform="rotate(141.0 69.0 148.2)" opacity="0.55" filter="url(#b2)"/><ellipse cx="61.3" cy="135.6" rx="7" ry="6" fill="rgb(48,62,150)" transform="rotate(154.0 61.3 135.6)" opacity="0.55" filter="url(#b2)"/><ellipse cx="56.6" cy="121.7" rx="7" ry="6" fill="rgb(48,62,150)" transform="rotate(167.0 56.6 121.7)" opacity="0.55" filter="url(#b2)"/><ellipse cx="55.0" cy="107.0" rx="7" ry="6" fill="rgb(48,62,150)" transform="rotate(180.0 55.0 107.0)" opacity="0.55" filter="url(#b2)"/><ellipse cx="56.6" cy="92.3" rx="7" ry="6" fill="rgb(48,62,150)" transform="rotate(193.0 56.6 92.3)" opacity="0.55" filter="url(#b2)"/><ellipse cx="61.3" cy="78.4" rx="7" ry="6" fill="rgb(48,62,150)" transform="rotate(206.0 61.3 78.4)" opacity="0.55" filter="url(#b2)"/><ellipse cx="69.0" cy="65.8" rx="7" ry="6" fill="rgb(48,62,150)" transform="rotate(219.0 69.0 65.8)" opacity="0.55" filter="url(#b2)"/><ellipse cx="79.1" cy="55.4" rx="7" ry="6" fill="rgb(48,62,150)" transform="rotate(231.0 79.1 55.4)" opacity="0.55" filter="url(#b2)"/><ellipse cx="91.2" cy="47.5" rx="7" ry="6" fill="rgb(48,62,150)" transform="rotate(244.0 91.2 47.5)" opacity="0.55" filter="url(#b2)"/><ellipse cx="104.8" cy="42.7" rx="7" ry="6" fill="rgb(48,62,150)" transform="rotate(257.0 104.8 42.7)" opacity="0.55" filter="url(#b2)"/><ellipse cx="119.0" cy="41.0" rx="7" ry="6" fill="rgb(48,62,150)" transform="rotate(270.0 119.0 41.0)" opacity="0.55" filter="url(#b2)"/><ellipse cx="133.2" cy="42.7" rx="7" ry="6" fill="rgb(48,62,150)" transform="rotate(283.0 133.2 42.7)" opacity="0.55" filter="url(#b2)"/><ellipse cx="146.8" cy="47.5" rx="7" ry="6" fill="rgb(48,62,150)" transform="rotate(296.0 146.8 47.5)" opacity="0.55" filter="url(#b2)"/><ellipse cx="158.9" cy="55.4" rx="7" ry="6" fill="rgb(48,62,150)" transform="rotate(309.0 158.9 55.4)" opacity="0.55" filter="url(#b2)"/><ellipse cx="169.0" cy="65.8" rx="7" ry="6" fill="rgb(48,62,150)" transform="rotate(321.0 169.0 65.8)" opacity="0.55" filter="url(#b2)"/><ellipse cx="176.7" cy="78.4" rx="7" ry="6" fill="rgb(48,62,150)" transform="rotate(334.0 176.7 78.4)" opacity="0.55" filter="url(#b2)"/><ellipse cx="181.4" cy="92.3" rx="7" ry="6" fill="rgb(48,62,150)" transform="rotate(347.0 181.4 92.3)" opacity="0.55" filter="url(#b2)"/><ellipse cx="62" cy="88" rx="5.5" ry="4.4" fill="rgb(52,62,145)" opacity="0.8" filter="url(#b1)"/><ellipse cx="60" cy="129" rx="4.95" ry="4.95" fill="rgb(52,62,145)" opacity="0.8" filter="url(#b1)"/><ellipse cx="153" cy="117" rx="5.5" ry="5.5" fill="rgb(52,62,145)" opacity="0.8" filter="url(#b1)"/><ellipse cx="111.6" cy="159" rx="3.3000000000000003" ry="3.3000000000000003" fill="rgb(52,62,145)" opacity="0.8" filter="url(#b1)"/><ellipse cx="143" cy="141" rx="4.4" ry="3.8500000000000005" fill="rgb(52,62,145)" opacity="0.8" filter="url(#b1)"/><ellipse cx="174" cy="97" rx="5.5" ry="5.5" fill="rgb(52,62,145)" opacity="0.8" filter="url(#b1)"/><ellipse cx="105" cy="58" rx="6.6000000000000005" ry="5.5" fill="rgb(52,62,145)" opacity="0.8" filter="url(#b1)"/><ellipse cx="160" cy="72" rx="6.6000000000000005" ry="6.6000000000000005" fill="rgb(52,62,145)" opacity="0.8" filter="url(#b1)"/><ellipse cx="70" cy="140" rx="5.5" ry="5.5" fill="rgb(52,62,145)" opacity="0.8" filter="url(#b1)"/><ellipse cx="125" cy="165" rx="6.6000000000000005" ry="4.4" fill="rgb(52,62,145)" opacity="0.8" filter="url(#b1)"/><g filter="url(#wob)"><ellipse cx="131.6" cy="26" rx="5.8" ry="6.3" fill="rgb(50,80,178)"/><ellipse cx="118" cy="43" rx="12.6" ry="6.9" fill="rgb(50,80,178)"/><ellipse cx="137" cy="41" rx="13.8" ry="7.5" fill="rgb(50,80,178)"/><ellipse cx="151" cy="45" rx="6.9" ry="5.8" fill="rgb(50,80,178)"/><ellipse cx="97" cy="49" rx="7.5" ry="9.2" fill="rgb(50,80,178)" transform="rotate(-35 97 49)"/><ellipse cx="76.5" cy="60" rx="8.0" ry="6.9" fill="rgb(50,80,178)"/><ellipse cx="64" cy="72" rx="5.8" ry="7.5" fill="rgb(50,80,178)" transform="rotate(30 64 72)"/><ellipse cx="169" cy="60" rx="9.2" ry="11.5" fill="rgb(50,80,178)" transform="rotate(-30 169 60)"/><ellipse cx="181" cy="76" rx="5.8" ry="5.8" fill="rgb(50,80,178)"/><ellipse cx="186" cy="87" rx="5.2" ry="6.9" fill="rgb(50,80,178)"/><ellipse cx="183" cy="101" rx="11.5" ry="5.8" fill="rgb(50,80,178)"/><ellipse cx="174" cy="114" rx="5.8" ry="5.8" fill="rgb(50,80,178)"/><ellipse cx="49" cy="106" rx="6.9" ry="11.5" fill="rgb(50,80,178)"/><ellipse cx="48" cy="125" rx="6.3" ry="9.2" fill="rgb(50,80,178)"/><ellipse cx="59" cy="148" rx="10.3" ry="11.5" fill="rgb(50,80,178)" transform="rotate(-20 59 148)"/><ellipse cx="73" cy="165" rx="9.2" ry="6.9" fill="rgb(50,80,178)"/><ellipse cx="94.5" cy="173" rx="13.8" ry="8.0" fill="rgb(50,80,178)" transform="rotate(20 94.5 173)"/><ellipse cx="114" cy="179" rx="11.5" ry="6.3" fill="rgb(50,80,178)"/><ellipse cx="136" cy="173" rx="8.0" ry="7.5" fill="rgb(50,80,178)"/><ellipse cx="151" cy="164" rx="8.0" ry="9.2" fill="rgb(50,80,178)"/><ellipse cx="160" cy="151" rx="5.8" ry="5.2" fill="rgb(50,80,178)"/><ellipse cx="171" cy="156" rx="6.9" ry="6.3" fill="rgb(50,80,178)"/><ellipse cx="159" cy="132" rx="5.8" ry="6.3" fill="rgb(50,80,178)"/></g></g><g style="mix-blend-mode:screen"><ellipse cx="154" cy="140.5" rx="2.5" ry="2.5" fill="rgb(118,212,28)" filter="url(#b1)"/></g>
</g><rect x="0.5" y="0.5" width="230" height="211" fill="none" stroke="#000" stroke-width="1.2"/></g>
<clipPath id="cp21"><rect x="0" y="0" width="231" height="212"/></clipPath>
<g transform="translate(404 1097)"><g clip-path="url(#cp21)"><rect x="0" y="0" width="231" height="212" fill="#080a06"/>
<g transform="translate(-1.5 -4)"><ellipse cx="115" cy="105" rx="58" ry="58" fill="rgb(22,20,52)" filter="url(#b4)"/><ellipse cx="144" cy="65" rx="6" ry="8" fill="rgb(46,48,120)" opacity="0.75" filter="url(#b2)"/><ellipse cx="129" cy="68" rx="6.5" ry="6.5" fill="rgb(46,48,120)" opacity="0.75" filter="url(#b2)"/><ellipse cx="85" cy="132" rx="10" ry="10" fill="rgb(46,48,120)" opacity="0.75" filter="url(#b2)"/><ellipse cx="100" cy="90" rx="12" ry="9" fill="rgb(46,48,120)" opacity="0.75" filter="url(#b2)"/><ellipse cx="120" cy="100" rx="10" ry="10" fill="rgb(46,48,120)" opacity="0.75" filter="url(#b2)"/><ellipse cx="90" cy="110" rx="10" ry="9" fill="rgb(46,48,120)" opacity="0.75" filter="url(#b2)"/><ellipse cx="125" cy="80" rx="10" ry="8" fill="rgb(46,48,120)" opacity="0.75" filter="url(#b2)"/><ellipse cx="70" cy="100" rx="8" ry="8" fill="rgb(46,48,120)" opacity="0.75" filter="url(#b2)"/><ellipse cx="105" cy="140" rx="8" ry="8" fill="rgb(46,48,120)" opacity="0.75" filter="url(#b2)"/><g filter="url(#wob)"><ellipse cx="126" cy="37.5" rx="12.1" ry="6.6" fill="rgb(50,80,178)"/><ellipse cx="104" cy="42.7" rx="11.0" ry="6.6" fill="rgb(50,80,178)" transform="rotate(-10 104 42.7)"/><ellipse cx="151.5" cy="43" rx="11.0" ry="5.5" fill="rgb(50,80,178)" transform="rotate(25 151.5 43)"/><ellipse cx="129.5" cy="51" rx="11.0" ry="7.7" fill="rgb(50,80,178)"/><ellipse cx="73" cy="57" rx="11.0" ry="7.2" fill="rgb(50,80,178)" transform="rotate(-30 73 57)"/><ellipse cx="83" cy="64" rx="7.2" ry="7.2" fill="rgb(50,80,178)"/><ellipse cx="104" cy="61" rx="11.6" ry="9.9" fill="rgb(50,80,178)"/><ellipse cx="161" cy="61" rx="11.6" ry="7.7" fill="rgb(50,80,178)"/><ellipse cx="156" cy="76.5" rx="8.8" ry="7.2" fill="rgb(50,80,178)"/><ellipse cx="166" cy="86" rx="7.7" ry="8.8" fill="rgb(50,80,178)"/><ellipse cx="181.6" cy="91" rx="10.5" ry="11.0" fill="rgb(50,80,178)"/><ellipse cx="58.6" cy="85.5" rx="8.8" ry="8.8" fill="rgb(50,80,178)"/><ellipse cx="48" cy="98" rx="6.1" ry="6.1" fill="rgb(50,80,178)"/><ellipse cx="146" cy="91" rx="7.7" ry="9.9" fill="rgb(50,80,178)"/><ellipse cx="141.7" cy="111" rx="9.9" ry="9.9" fill="rgb(50,80,178)"/><ellipse cx="180" cy="111" rx="11.0" ry="12.1" fill="rgb(50,80,178)"/><ellipse cx="160" cy="119" rx="7.2" ry="7.2" fill="rgb(50,80,178)"/><ellipse cx="121" cy="127" rx="6.6" ry="11.0" fill="rgb(50,80,178)"/><ellipse cx="176" cy="135" rx="12.1" ry="9.9" fill="rgb(50,80,178)" transform="rotate(-15 176 135)"/><ellipse cx="156" cy="135" rx="12.1" ry="8.8" fill="rgb(50,80,178)"/><ellipse cx="117" cy="145" rx="7.7" ry="7.2" fill="rgb(50,80,178)"/><ellipse cx="135" cy="147" rx="7.7" ry="12.1" fill="rgb(50,80,178)"/><ellipse cx="120.5" cy="155" rx="14.3" ry="5.5" fill="rgb(50,80,178)"/><ellipse cx="73" cy="158" rx="17.6" ry="12.1" fill="rgb(50,80,178)" transform="rotate(10 73 158)"/><ellipse cx="109" cy="168.6" rx="11.0" ry="8.8" fill="rgb(50,80,178)"/><ellipse cx="156" cy="163" rx="8.8" ry="8.8" fill="rgb(50,80,178)" transform="rotate(-30 156 163)"/><ellipse cx="141.7" cy="172" rx="11.0" ry="7.2" fill="rgb(50,80,178)" transform="rotate(-20 141.7 172)"/><ellipse cx="57" cy="122" rx="13.2" ry="12.1" fill="rgb(50,80,178)"/><ellipse cx="66" cy="138" rx="11.0" ry="8.8" fill="rgb(50,80,178)" transform="rotate(20 66 138)"/><ellipse cx="58" cy="108" rx="7.7" ry="6.6" fill="rgb(50,80,178)"/></g></g><g style="mix-blend-mode:screen"><ellipse cx="139.3" cy="106.7" rx="5.5" ry="5.5" fill="rgb(118,212,28)" filter="url(#b1)"/><ellipse cx="120.5" cy="112.4" rx="5" ry="4" fill="rgb(80,160,30)" opacity="0.8" filter="url(#b1)"/><ellipse cx="101" cy="132" rx="4" ry="4" fill="rgb(80,160,30)" opacity="0.8" filter="url(#b1)"/><ellipse cx="135.2" cy="79.8" rx="4" ry="4" fill="rgb(80,160,30)" opacity="0.8" filter="url(#b1)"/></g>
</g><rect x="0.5" y="0.5" width="230" height="211" fill="none" stroke="#000" stroke-width="1.2"/></g>
<clipPath id="cp22"><rect x="0" y="0" width="231" height="212"/></clipPath>
<g transform="translate(640 1097)"><g clip-path="url(#cp22)"><rect x="0" y="0" width="231" height="212" fill="#080a06"/>
<g transform="translate(-1 -1)"><ellipse cx="120" cy="108" rx="62" ry="48" fill="rgb(22,20,45)" filter="url(#b4)"/><ellipse cx="81.4" cy="137" rx="9" ry="6.5" fill="rgb(46,44,108)" transform="rotate(30 81.4 137)" opacity="0.75" filter="url(#b2)"/><ellipse cx="133.6" cy="133.6" rx="18" ry="13" fill="rgb(46,44,108)" opacity="0.75" filter="url(#b2)"/><ellipse cx="124" cy="72.5" rx="8" ry="6.5" fill="rgb(46,44,108)" opacity="0.75" filter="url(#b2)"/><ellipse cx="110.8" cy="91" rx="12" ry="12" fill="rgb(46,44,108)" opacity="0.75" filter="url(#b2)"/><ellipse cx="104" cy="115" rx="9" ry="7" fill="rgb(46,44,108)" opacity="0.75" filter="url(#b2)"/><ellipse cx="84.7" cy="115.6" rx="9" ry="10" fill="rgb(46,44,108)" opacity="0.75" filter="url(#b2)"/><ellipse cx="122" cy="106" rx="6" ry="6" fill="rgb(46,44,108)" opacity="0.75" filter="url(#b2)"/><ellipse cx="141.7" cy="94.5" rx="8" ry="8" fill="rgb(46,44,108)" opacity="0.75" filter="url(#b2)"/><ellipse cx="184" cy="110.8" rx="3" ry="3" fill="rgb(46,44,108)" opacity="0.75" filter="url(#b2)"/><g filter="url(#wob)"><ellipse cx="90.4" cy="62" rx="6.5" ry="5.5" fill="rgb(50,80,178)"/><ellipse cx="76.6" cy="69.7" rx="8" ry="6.5" fill="rgb(50,80,178)"/><ellipse cx="99.4" cy="75.7" rx="9" ry="8" fill="rgb(50,80,178)"/><ellipse cx="68.4" cy="88" rx="6" ry="5.7" fill="rgb(50,80,178)"/><ellipse cx="88" cy="93.7" rx="5.5" ry="4" fill="rgb(50,80,178)"/><ellipse cx="62" cy="107.5" rx="10.5" ry="5.7" fill="rgb(50,80,178)"/><ellipse cx="66.8" cy="122" rx="5" ry="2.5" fill="rgb(50,80,178)" transform="rotate(-15 66.8 122)"/><ellipse cx="145.8" cy="66.8" rx="10" ry="3.5" fill="rgb(50,80,178)" transform="rotate(30 145.8 66.8)"/><ellipse cx="129.5" cy="78" rx="5" ry="3.3" fill="rgb(50,80,178)"/><ellipse cx="163" cy="84.7" rx="10" ry="3.5" fill="rgb(50,80,178)" transform="rotate(35 163 84.7)"/><ellipse cx="154" cy="93.7" rx="3.5" ry="3.5" fill="rgb(50,80,178)"/><ellipse cx="164.5" cy="110" rx="9" ry="8" fill="rgb(50,80,178)"/><ellipse cx="167" cy="137" rx="12" ry="6.5" fill="rgb(50,80,178)" transform="rotate(-40 167 137)"/><ellipse cx="130" cy="155.6" rx="9" ry="4" fill="rgb(50,80,178)"/></g></g><g style="mix-blend-mode:screen"><ellipse cx="73" cy="70" rx="7.3" ry="5.7" fill="rgb(118,212,28)" filter="url(#b1)"/><ellipse cx="86.6" cy="63" rx="5" ry="4.5" fill="rgb(118,212,28)" filter="url(#b1)"/><ellipse cx="94.8" cy="77" rx="5" ry="5" fill="rgb(80,160,30)" opacity="0.8" filter="url(#b1)"/><ellipse cx="64" cy="88.6" rx="4.7" ry="4.7" fill="rgb(80,160,30)" opacity="0.8" filter="url(#b1)"/><ellipse cx="54" cy="111" rx="4" ry="3" fill="rgb(118,212,28)" filter="url(#b1)"/><ellipse cx="63.3" cy="123" rx="4.5" ry="3" fill="rgb(118,212,28)" filter="url(#b1)"/><ellipse cx="61" cy="106.5" rx="5" ry="6" fill="rgb(40,90,20)" opacity="0.45" filter="url(#b2)"/><ellipse cx="86.5" cy="131.8" rx="2.5" ry="3" fill="rgb(118,212,28)" filter="url(#b1)"/><ellipse cx="118" cy="147" rx="4.5" ry="4.5" fill="rgb(118,212,28)" filter="url(#b1)"/><ellipse cx="126.5" cy="80.5" rx="6" ry="5" fill="rgb(118,212,28)" filter="url(#b1)"/><ellipse cx="136.6" cy="64" rx="4" ry="4" fill="rgb(118,212,28)" filter="url(#b1)"/><ellipse cx="144.8" cy="70" rx="7" ry="4" fill="rgb(118,212,28)" transform="rotate(20 144.8 70)" filter="url(#b1)"/><ellipse cx="150.8" cy="94.6" rx="4" ry="3" fill="rgb(118,212,28)" filter="url(#b1)"/><ellipse cx="162.7" cy="109.5" rx="7" ry="7.3" fill="rgb(118,212,28)" filter="url(#b1)"/><ellipse cx="182" cy="112" rx="4" ry="3.6" fill="rgb(118,212,28)" filter="url(#b1)"/><ellipse cx="170.8" cy="120.4" rx="2" ry="2" fill="rgb(118,212,28)" filter="url(#b1)"/><ellipse cx="155.4" cy="145.6" rx="3" ry="3" fill="rgb(40,90,20)" opacity="0.45" filter="url(#b2)"/><ellipse cx="133.4" cy="87" rx="4" ry="4" fill="rgb(40,90,20)" opacity="0.45" filter="url(#b2)"/></g>
</g><rect x="0.5" y="0.5" width="230" height="211" fill="none" stroke="#000" stroke-width="1.2"/></g>
<rect x="319.2" y="1292" width="71.80000000000001" height="7" fill="#fff"/>
<text x="356" y="1284.5" text-anchor="middle" fill="#fff" style="font-size:22px;">75 μm</text>
<rect x="553.9" y="1292" width="71.10000000000002" height="7" fill="#fff"/>
<text x="589.5" y="1284.5" text-anchor="middle" fill="#fff" style="font-size:22px;">75 μm</text>
<rect x="786" y="1293" width="71" height="7" fill="#fff"/>
<text x="822" y="1285.5" text-anchor="middle" fill="#fff" style="font-size:22px;">75 μm</text>
<text x="926" y="633.4" text-anchor="start" fill="#000" style="font-size:38px;">C</text>
<path d="M1065.8 761.7 V1241.8 H1418" fill="none" stroke="#0c0e0a" stroke-width="1.9" stroke-linejoin="round"/>
<text x="1036.8" y="771.9" text-anchor="end" fill="#000" style="font-size:33px;">25</text>
<text x="1036.8" y="867.72" text-anchor="end" fill="#000" style="font-size:33px;">20</text>
<text x="1036.8" y="963.54" text-anchor="end" fill="#000" style="font-size:33px;">15</text>
<text x="1036.8" y="1059.36" text-anchor="end" fill="#000" style="font-size:33px;">10</text>
<text x="1037" y="1155.18" text-anchor="end" fill="#000" style="font-size:33px;">5</text>
<text x="1037" y="1251.0" text-anchor="end" fill="#000" style="font-size:33px;">0</text>
<text x="967" y="988.9" text-anchor="middle" fill="#000" style="font-size:33px;" transform="rotate(-90 967 988.9)">Number of TUNEL (+) cells / total cells (%)</text>
<rect x="1101.8500000000001" y="1216.45" width="45.499999999999865" height="25.349999999999955" fill="#4E76BA" stroke="#000" stroke-width="1.9"/>
<line x1="1124.6" y1="1207.8" x2="1124.6" y2="1225" stroke="#000" stroke-width="1.8"/>
<line x1="1119.1" y1="1207.8" x2="1130.1" y2="1207.8" stroke="#000" stroke-width="1.8"/>
<line x1="1119.1" y1="1225" x2="1130.1" y2="1225" stroke="#000" stroke-width="1.8"/>
<rect x="1218.8500000000001" y="1086.45" width="45.499999999999865" height="155.34999999999997" fill="#A4A4A2" stroke="#000" stroke-width="1.9"/>
<line x1="1241.6" y1="1074" x2="1241.6" y2="1097.8" stroke="#000" stroke-width="1.8"/>
<line x1="1236.1" y1="1074" x2="1247.1" y2="1074" stroke="#000" stroke-width="1.8"/>
<line x1="1236.1" y1="1097.8" x2="1247.1" y2="1097.8" stroke="#000" stroke-width="1.8"/>
<rect x="1336.45" y="903.1500000000001" width="44.80000000000005" height="338.6499999999999" fill="#E3793B" stroke="#000" stroke-width="1.9"/>
<line x1="1358.85" y1="852.7" x2="1358.85" y2="952.8" stroke="#000" stroke-width="1.8"/>
<line x1="1353.35" y1="852.7" x2="1364.35" y2="852.7" stroke="#000" stroke-width="1.8"/>
<line x1="1353.35" y1="952.8" x2="1364.35" y2="952.8" stroke="#000" stroke-width="1.8"/>
<text x="1124.85" y="1177.5" text-anchor="middle" fill="#000" style="font-size:33px;">a</text>
<text x="1239.6" y="1041.5" text-anchor="middle" fill="#000" style="font-size:33px;">b</text>
<text x="1358.3" y="820.5" text-anchor="middle" fill="#000" style="font-size:33px;">c</text>
<text x="1129" y="1291" text-anchor="middle" fill="#000" style="font-size:33px;">IVF</text>
<text x="1242.5" y="1291" text-anchor="middle" fill="#000" style="font-size:33px;">mtM-M</text>
<text x="1360.8" y="1291" text-anchor="middle" fill="#000" style="font-size:33px;">mtB-M</text>
<text x="229.5" y="1374.9" text-anchor="start" fill="#000" style="font-size:38px;">D</text>
<text x="480" y="1392.2" text-anchor="middle" fill="#000" style="font-size:31px;font-style:italic;">Bcl2</text>
<path d="M368.1 1410 V1676.5 H594.6" fill="none" stroke="#0c0e0a" stroke-width="1.9" stroke-linejoin="round"/>
<text x="0" y="0" text-anchor="end" fill="#000" style="font-size:24px;" transform="translate(351.2 1416.8) scale(0.97 1)">35</text>
<text x="0" y="0" text-anchor="end" fill="#000" style="font-size:24px;" transform="translate(351.2 1493.2) scale(0.97 1)">25</text>
<text x="0" y="0" text-anchor="end" fill="#000" style="font-size:24px;" transform="translate(351.2 1569.1) scale(0.97 1)">15</text>
<text x="0" y="0" text-anchor="end" fill="#000" style="font-size:24px;" transform="translate(351.6 1644.8) scale(0.97 1)">5</text>
<text x="0" y="0" text-anchor="end" fill="#000" style="font-size:24px;" transform="translate(351.6 1682.8) scale(0.97 1)">0</text>
<text x="305" y="1535.4" text-anchor="middle" style="font-size:23px" transform="rotate(-90 305 1535.4)">Expression level / <tspan style="font-style:italic">Gapdh</tspan></text>
<rect x="387.34999999999997" y="1505.8500000000001" width="37.39999999999999" height="170.64999999999995" fill="#4E76BA" stroke="#000" stroke-width="2.3"/>
<line x1="406.04999999999995" y1="1449.4" x2="406.04999999999995" y2="1560.9" stroke="#000" stroke-width="1.8"/>
<line x1="402.74999999999994" y1="1449.4" x2="409.34999999999997" y2="1449.4" stroke="#000" stroke-width="1.8"/>
<line x1="402.74999999999994" y1="1560.9" x2="409.34999999999997" y2="1560.9" stroke="#000" stroke-width="1.8"/>
<rect x="463.05" y="1525.8500000000001" width="36.899999999999956" height="150.64999999999992" fill="#A4A4A2" stroke="#000" stroke-width="1.9"/>
<line x1="481.5" y1="1472" x2="481.5" y2="1579.8" stroke="#000" stroke-width="1.8"/>
<line x1="478.2" y1="1472" x2="484.8" y2="1472" stroke="#000" stroke-width="1.8"/>
<line x1="478.2" y1="1579.8" x2="484.8" y2="1579.8" stroke="#000" stroke-width="1.8"/>
<rect x="538.85" y="1495.15" width="36.80000000000005" height="181.34999999999997" fill="#E3793B" stroke="#000" stroke-width="1.9"/>
<line x1="557.25" y1="1443" x2="557.25" y2="1547.9" stroke="#000" stroke-width="1.8"/>
<line x1="553.95" y1="1443" x2="560.55" y2="1443" stroke="#000" stroke-width="1.8"/>
<line x1="553.95" y1="1547.9" x2="560.55" y2="1547.9" stroke="#000" stroke-width="1.8"/>
<text x="791" y="1382.9" text-anchor="middle" fill="#000" style="font-size:31px;font-style:italic;">Bax</text>
<path d="M676.9 1406.9 V1676.5 H902.6" fill="none" stroke="#0c0e0a" stroke-width="1.9" stroke-linejoin="round"/>
<text x="0" y="0" text-anchor="end" fill="#000" style="font-size:24px;" transform="translate(654.2 1414.2) scale(0.97 1)">2500</text>
<text x="0" y="0" text-anchor="end" fill="#000" style="font-size:24px;" transform="translate(654.2 1468.2) scale(0.97 1)">2000</text>
<text x="0" y="0" text-anchor="end" fill="#000" style="font-size:24px;" transform="translate(654.2 1522.2) scale(0.97 1)">1500</text>
<text x="0" y="0" text-anchor="end" fill="#000" style="font-size:24px;" transform="translate(654.2 1576.2) scale(0.97 1)">1000</text>
<text x="0" y="0" text-anchor="end" fill="#000" style="font-size:24px;" transform="translate(654.2 1630.2) scale(0.97 1)">500</text>
<text x="0" y="0" text-anchor="end" fill="#000" style="font-size:24px;" transform="translate(654.2 1684.2) scale(0.97 1)">0</text>
<rect x="696.35" y="1648.65" width="36.399999999999935" height="27.85" fill="#4E76BA" stroke="#000" stroke-width="2.3"/>
<line x1="714.55" y1="1643.8" x2="714.55" y2="1652.6" stroke="#000" stroke-width="1.8"/>
<line x1="711.25" y1="1643.8" x2="717.8499999999999" y2="1643.8" stroke="#000" stroke-width="1.8"/>
<line x1="711.25" y1="1652.6" x2="717.8499999999999" y2="1652.6" stroke="#000" stroke-width="1.8"/>
<rect x="771.45" y="1650.65" width="36.49999999999998" height="25.849999999999955" fill="#A4A4A2" stroke="#000" stroke-width="1.9"/>
<line x1="789.7" y1="1636.8" x2="789.7" y2="1662" stroke="#000" stroke-width="1.8"/>
<line x1="786.4000000000001" y1="1636.8" x2="793.0" y2="1636.8" stroke="#000" stroke-width="1.8"/>
<line x1="786.4000000000001" y1="1662" x2="793.0" y2="1662" stroke="#000" stroke-width="1.8"/>
<rect x="846.85" y="1451.8500000000001" width="36.40000000000007" height="224.64999999999992" fill="#E3793B" stroke="#000" stroke-width="1.9"/>
<line x1="865.05" y1="1421" x2="865.05" y2="1480.2" stroke="#000" stroke-width="1.8"/>
<line x1="861.75" y1="1421" x2="868.3499999999999" y2="1421" stroke="#000" stroke-width="1.8"/>
<line x1="861.75" y1="1480.2" x2="868.3499999999999" y2="1480.2" stroke="#000" stroke-width="1.8"/>
<text x="714.7" y="1623.5" text-anchor="middle" fill="#000" style="font-size:23px;">a</text>
<text x="790.3" y="1623.5" text-anchor="middle" fill="#000" style="font-size:23px;">a</text>
<text x="864.5" y="1414" text-anchor="middle" fill="#000" style="font-size:23px;">b</text>
<rect x="988.4" y="1401.5" width="248.5" height="256.6" fill="#fff" stroke="#000" stroke-width="2"/>
<rect x="1020.1" y="1431.1" width="63.4" height="55.6" fill="#4E76BA" stroke="#000" stroke-width="2"/>
<rect x="1019.5" y="1504.3" width="63.4" height="56.1" fill="#A4A4A2" stroke="#000" stroke-width="2"/>
<rect x="1019.5" y="1581" width="63.4" height="55.6" fill="#E3793B" stroke="#000" stroke-width="2"/>
<text x="1101.8" y="1472" text-anchor="start" fill="#000" style="font-size:33px;">IVF</text>
<text x="1099.3" y="1545.8" text-anchor="start" fill="#000" style="font-size:33px;">mtM-M</text>
<text x="1099.3" y="1620.9" text-anchor="start" fill="#000" style="font-size:33px;">mtB-M</text>
<text x="481.6" y="1810.6" text-anchor="middle" fill="#000" style="font-size:32px;font-style:italic;">Caspase 3</text>
<path d="M368.7 1834 V2113.7 H588.4" fill="none" stroke="#0c0e0a" stroke-width="1.9" stroke-linejoin="round"/>
<text x="0" y="0" text-anchor="end" fill="#000" style="font-size:24px;" transform="translate(352.1 1842.0) scale(0.97 1)">100</text>
<text x="0" y="0" text-anchor="end" fill="#000" style="font-size:24px;" transform="translate(352.1 1898.0) scale(0.97 1)">80</text>
<text x="0" y="0" text-anchor="end" fill="#000" style="font-size:24px;" transform="translate(352.1 1954.0) scale(0.97 1)">60</text>
<text x="0" y="0" text-anchor="end" fill="#000" style="font-size:24px;" transform="translate(352.1 2010.0) scale(0.97 1)">40</text>
<text x="0" y="0" text-anchor="end" fill="#000" style="font-size:24px;" transform="translate(352.1 2066.0) scale(0.97 1)">20</text>
<text x="0" y="0" text-anchor="end" fill="#000" style="font-size:24px;" transform="translate(352.0 2122.0) scale(0.97 1)">0</text>
<text x="305.5" y="1966.7" text-anchor="middle" style="font-size:23px" transform="rotate(-90 305.5 1966.7)">Expression level / <tspan style="font-style:italic">Gapdh</tspan></text>
<rect x="387.15" y="2053.15" width="36.7" height="60.54999999999982" fill="#4E76BA" stroke="#000" stroke-width="2.3"/>
<line x1="405.5" y1="2031.5" x2="405.5" y2="2073" stroke="#000" stroke-width="1.8"/>
<line x1="402.2" y1="2031.5" x2="408.8" y2="2031.5" stroke="#000" stroke-width="1.8"/>
<line x1="402.2" y1="2073" x2="408.8" y2="2073" stroke="#000" stroke-width="1.8"/>
<rect x="460.55" y="2020.65" width="36.79999999999999" height="93.04999999999977" fill="#A4A4A2" stroke="#000" stroke-width="1.9"/>
<line x1="478.95000000000005" y1="2003.6" x2="478.95000000000005" y2="2036" stroke="#000" stroke-width="1.8"/>
<line x1="475.65000000000003" y1="2003.6" x2="482.25000000000006" y2="2003.6" stroke="#000" stroke-width="1.8"/>
<line x1="475.65000000000003" y1="2036" x2="482.25000000000006" y2="2036" stroke="#000" stroke-width="1.8"/>
<rect x="533.85" y="1919.65" width="36.90000000000007" height="194.04999999999978" fill="#E3793B" stroke="#000" stroke-width="1.9"/>
<line x1="552.3" y1="1886.4" x2="552.3" y2="1951.3" stroke="#000" stroke-width="1.8"/>
<line x1="549.0" y1="1886.4" x2="555.5999999999999" y2="1886.4" stroke="#000" stroke-width="1.8"/>
<line x1="549.0" y1="1951.3" x2="555.5999999999999" y2="1951.3" stroke="#000" stroke-width="1.8"/>
<text x="405.3" y="2015.5" text-anchor="middle" fill="#000" style="font-size:23px;">a</text>
<text x="477.4" y="1989" text-anchor="middle" fill="#000" style="font-size:23px;">a</text>
<text x="551.4" y="1877.5" text-anchor="middle" fill="#000" style="font-size:23px;">b</text>
<text x="791.4" y="1810.6" text-anchor="middle" fill="#000" style="font-size:32px;font-style:italic;">Caspase 7</text>
<path d="M676.5 1838.5 V2116.7 H909.3" fill="none" stroke="#0c0e0a" stroke-width="1.9" stroke-linejoin="round"/>
<text x="0" y="0" text-anchor="end" fill="#000" style="font-size:24px;" transform="translate(658.2 1845.0) scale(0.97 1)">160</text>
<text x="0" y="0" text-anchor="end" fill="#000" style="font-size:24px;" transform="translate(658.2 1914.75) scale(0.97 1)">120</text>
<text x="0" y="0" text-anchor="end" fill="#000" style="font-size:24px;" transform="translate(658.2 1984.5) scale(0.97 1)">80</text>
<text x="0" y="0" text-anchor="end" fill="#000" style="font-size:24px;" transform="translate(658.2 2054.25) scale(0.97 1)">40</text>
<text x="0" y="0" text-anchor="end" fill="#000" style="font-size:24px;" transform="translate(658.2 2124.0) scale(0.97 1)">0</text>
<rect x="696.15" y="2024.0500000000002" width="37.49999999999996" height="92.64999999999972" fill="#4E76BA" stroke="#000" stroke-width="2.3"/>
<line x1="714.9" y1="2003.2" x2="714.9" y2="2042.6" stroke="#000" stroke-width="1.8"/>
<line x1="711.6" y1="2003.2" x2="718.1999999999999" y2="2003.2" stroke="#000" stroke-width="1.8"/>
<line x1="711.6" y1="2042.6" x2="718.1999999999999" y2="2042.6" stroke="#000" stroke-width="1.8"/>
<rect x="774.25" y="1952.95" width="37.30000000000005" height="163.74999999999983" fill="#A4A4A2" stroke="#000" stroke-width="1.9"/>
<line x1="792.9" y1="1884.2" x2="792.9" y2="2021.7" stroke="#000" stroke-width="1.8"/>
<line x1="789.6" y1="1884.2" x2="796.1999999999999" y2="1884.2" stroke="#000" stroke-width="1.8"/>
<line x1="789.6" y1="2021.7" x2="796.1999999999999" y2="2021.7" stroke="#000" stroke-width="1.8"/>
<rect x="851.5500000000001" y="1882.65" width="37.79999999999993" height="234.04999999999978" fill="#E3793B" stroke="#000" stroke-width="1.9"/>
<line x1="870.45" y1="1871" x2="870.45" y2="1892.6" stroke="#000" stroke-width="1.8"/>
<line x1="867.1500000000001" y1="1871" x2="873.75" y2="1871" stroke="#000" stroke-width="1.8"/>
<line x1="867.1500000000001" y1="1892.6" x2="873.75" y2="1892.6" stroke="#000" stroke-width="1.8"/>
<text x="714" y="1986" text-anchor="middle" fill="#000" style="font-size:23px;">a</text>
<text x="792.5" y="1871.5" text-anchor="middle" fill="#000" style="font-size:23px;">b</text>
<text x="870.8" y="1862.8" text-anchor="middle" fill="#000" style="font-size:23px;">b</text>
<text x="1111.5" y="1810.6" text-anchor="middle" fill="#000" style="font-size:32px;font-style:italic;">Caspase 9</text>
<path d="M999.9 1837 V2116.2 H1219.3" fill="none" stroke="#0c0e0a" stroke-width="1.9" stroke-linejoin="round"/>
<text x="0" y="0" text-anchor="end" fill="#000" style="font-size:24px;" transform="translate(983.1 1844.0) scale(0.97 1)">120</text>
<text x="0" y="0" text-anchor="end" fill="#000" style="font-size:24px;" transform="translate(983.1 1937.5) scale(0.97 1)">80</text>
<text x="0" y="0" text-anchor="end" fill="#000" style="font-size:24px;" transform="translate(983.1 2031.0) scale(0.97 1)">40</text>
<text x="0" y="0" text-anchor="end" fill="#000" style="font-size:24px;" transform="translate(983.1 2124.5) scale(0.97 1)">0</text>
<rect x="1018.75" y="2054.4500000000003" width="35.00000000000007" height="61.74999999999964" fill="#4E76BA" stroke="#000" stroke-width="2.3"/>
<line x1="1036.25" y1="2039" x2="1036.25" y2="2068.6" stroke="#000" stroke-width="1.8"/>
<line x1="1032.95" y1="2039" x2="1039.55" y2="2039" stroke="#000" stroke-width="1.8"/>
<line x1="1032.95" y1="2068.6" x2="1039.55" y2="2068.6" stroke="#000" stroke-width="1.8"/>
<rect x="1092.15" y="1978.95" width="34.6" height="137.24999999999983" fill="#A4A4A2" stroke="#000" stroke-width="1.9"/>
<line x1="1109.45" y1="1928.6" x2="1109.45" y2="2027.3" stroke="#000" stroke-width="1.8"/>
<line x1="1106.15" y1="1928.6" x2="1112.75" y2="1928.6" stroke="#000" stroke-width="1.8"/>
<line x1="1106.15" y1="2027.3" x2="1112.75" y2="2027.3" stroke="#000" stroke-width="1.8"/>
<rect x="1165.45" y="1903.65" width="35.1" height="212.54999999999978" fill="#E3793B" stroke="#000" stroke-width="1.9"/>
<line x1="1183.0" y1="1865.4" x2="1183.0" y2="1941" stroke="#000" stroke-width="1.8"/>
<line x1="1179.7" y1="1865.4" x2="1186.3" y2="1865.4" stroke="#000" stroke-width="1.8"/>
<line x1="1179.7" y1="1941" x2="1186.3" y2="1941" stroke="#000" stroke-width="1.8"/>
<text x="1035.7" y="2026.5" text-anchor="middle" fill="#000" style="font-size:23px;">a</text>
<text x="1108.2" y="1919.5" text-anchor="middle" fill="#000" style="font-size:23px;">b</text>
<text x="1181.8" y="1855.5" text-anchor="middle" fill="#000" style="font-size:23px;">b</text>
</svg>
</body></html>
